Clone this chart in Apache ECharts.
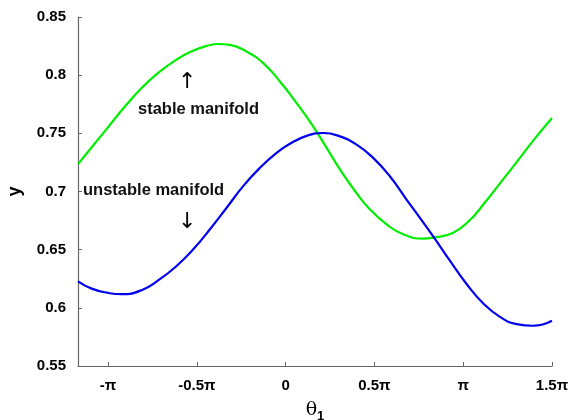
<!DOCTYPE html>
<html><head><meta charset="utf-8">
<script src="https://cdn.jsdelivr.net/npm/echarts@6/dist/echarts.min.js"></script>
<style>html,body{margin:0;padding:0;background:#fff}#c{width:570px;height:420px}</style>
</head><body><div id="c"></div>
<script>
// x in units of pi
const greenX = [-1.169,-1.092,-0.999,-0.905,-0.811,-0.717,-0.623,-0.529,-0.436,-0.379,-0.314,-0.22,-0.126,-0.032,0.062,0.155,0.231,0.306,0.4,0.475,0.569,0.662,0.775,0.831,0.944,1.038,1.122,1.207,1.301,1.394,1.5];
const greenY = [0.7235,0.738,0.7555,0.773,0.789,0.802,0.8125,0.8205,0.8255,0.8268,0.826,0.8203,0.8103,0.7946,0.776,0.756,0.7375,0.719,0.6985,0.6846,0.6717,0.6632,0.6595,0.6603,0.6646,0.6755,0.6905,0.707,0.7252,0.7437,0.7632];
const blueX = [-1.169,-1.092,-0.999,-0.923,-0.811,-0.708,-0.614,-0.52,-0.426,-0.332,-0.239,-0.145,-0.051,0.024,0.118,0.212,0.306,0.4,0.493,0.587,0.681,0.738,0.831,0.925,1.019,1.113,1.207,1.301,1.394,1.5];
const blueY = [0.6228,0.6165,0.6128,0.6117,0.6152,0.6246,0.636,0.6503,0.6675,0.686,0.7046,0.7203,0.7332,0.741,0.7478,0.7503,0.7474,0.7403,0.7289,0.7131,0.6931,0.6812,0.6615,0.6405,0.6205,0.6038,0.5922,0.586,0.5846,0.5889];
const xTicks = [-1,-0.5,0,0.5,1,1.5];
const xTickLabels = ['-π','-0.5π','0','0.5π','π','1.5π'];

const chart = echarts.init(document.getElementById('c'), null, {renderer:'canvas'});
const font = 'Liberation Sans, Arial, Helvetica, sans-serif';
const axisCol = '#666';
chart.setOption({
  animation:false,
  grid:{left:78,right:18,top:17,bottom:54,containLabel:false,outerBoundsMode:'none'},
  xAxis:{
    type:'value', min:-1.169, max:1.5,
    name:'{t|θ}{s|1}', nameLocation:'middle', nameGap:32,
    nameTextStyle:{rich:{t:{fontSize:19,fontFamily:'DejaVu Serif, serif',color:'#000'},s:{fontSize:13,fontWeight:'bold',fontFamily:font,color:'#000',verticalAlign:'bottom',padding:[12,0,0,0]}}},
    axisLine:{show:true,onZero:false,lineStyle:{color:axisCol,width:1.2}},
    axisTick:{show:true,inside:true,length:4,customValues:xTicks,lineStyle:{color:axisCol}},
    axisLabel:{customValues:xTicks,margin:12,color:'#000',fontSize:15,fontWeight:'bold',fontFamily:font,
      formatter:v=>{const i=xTicks.findIndex(t=>Math.abs(t-v)<1e-6);return i>=0?xTickLabels[i]:'';}},
    splitLine:{show:false}
  },
  yAxis:{
    type:'value', min:0.55, max:0.85, interval:0.05,
    name:'y', nameLocation:'middle', nameGap:54,
    nameTextStyle:{fontSize:18,fontWeight:'bold',fontFamily:font,color:'#000'},
    axisLine:{show:true,onZero:false,lineStyle:{color:axisCol,width:1.2}},
    axisTick:{show:true,inside:true,length:4,lineStyle:{color:axisCol}},
    axisLabel:{margin:12,color:'#000',fontSize:15,fontWeight:'bold',fontFamily:font,
      formatter:v=>{const r=Math.round(v*100)/100;return String(r);}},
    splitLine:{show:false}
  },
  series:[
    {type:'line',name:'stable',data:greenX.map((x,i)=>[x,greenY[i]]),smooth:0.5,showSymbol:false,lineStyle:{color:'#00ee00',width:2.2},z:2},
    {type:'line',name:'unstable',data:blueX.map((x,i)=>[x,blueY[i]]),smooth:0.5,showSymbol:false,lineStyle:{color:'#0000ee',width:2.2},z:3}
  ],
  graphic:[
    {type:'text',left:138,top:101,style:{text:'stable manifold',font:'bold 16.5px '+font,fill:'#111'}},
    {type:'text',left:83,top:182,style:{text:'unstable manifold',font:'bold 16.5px '+font,fill:'#111'}},
    {type:'text',left:178,top:71,style:{text:'↑',font:'22px DejaVu Sans',fill:'#000'}},
    {type:'text',left:178,top:211,style:{text:'↓',font:'22px DejaVu Sans',fill:'#000'}}
  ]
});
</script></body></html>
